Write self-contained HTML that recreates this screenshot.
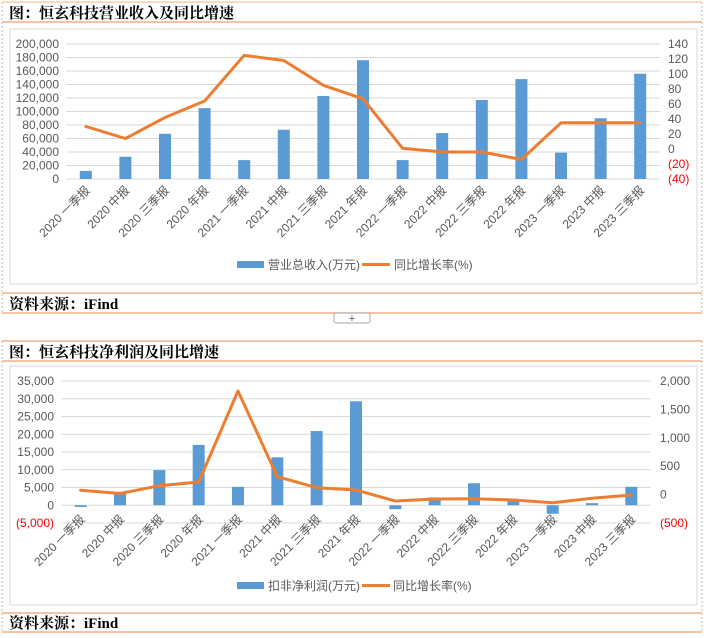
<!DOCTYPE html>
<html><head><meta charset="utf-8">
<style>
html,body{margin:0;padding:0;background:#fff;}
svg{display:block;font-family:"Liberation Sans","Noto Sans CJK SC",sans-serif;}
.t{font-family:"Liberation Serif","Noto Serif CJK SC","Noto Sans CJK SC",serif;font-weight:bold;font-size:15px;fill:#000;}
.ax{font-size:12px;fill:#595959;}
.neg{font-size:12px;fill:#ff0000;}
.lg{font-size:12px;fill:#595959;}
</style></head>
<body>
<svg id="s" width="708" height="638" viewBox="0 0 708 638">
  <g>
    <line x1="2" y1="2" x2="702" y2="2" stroke="#f4b183" stroke-width="1"/>
    <line x1="2" y1="22" x2="702" y2="22" stroke="#f4b183" stroke-width="1.5"/>
    <line x1="2" y1="2" x2="2" y2="313" stroke="#bbb" stroke-dasharray="2,2"/>
    <line x1="702" y1="2" x2="702" y2="313" stroke="#bbb" stroke-dasharray="2,2"/>
    <text class="t" x="9" y="18">图：恒玄科技营业收入及同比增速</text>
    <rect x="10" y="29" width="687" height="255" fill="#fff" stroke="#d9d9d9"/>
    <line x1="2" y1="293" x2="702" y2="293" stroke="#f4b183" stroke-width="1.5"/>
    <line x1="2" y1="313" x2="702" y2="313" stroke="#f4b183" stroke-width="1.5"/>
    <text class="t" x="9" y="309">资料来源：iFind</text>
  </g>
  <rect x="334" y="313" width="36" height="10" rx="2" fill="#fff" stroke="#aaa"/>
  <text x="352" y="322" font-size="11" fill="#555" text-anchor="middle">+</text>
  <g>
    <line x1="2" y1="341" x2="702" y2="341" stroke="#f4b183" stroke-width="1.5"/>
    <line x1="2" y1="361" x2="702" y2="361" stroke="#f4b183" stroke-width="1.5"/>
    <line x1="2" y1="341" x2="2" y2="633" stroke="#bbb" stroke-dasharray="2,2"/>
    <line x1="702" y1="341" x2="702" y2="633" stroke="#bbb" stroke-dasharray="2,2"/>
    <text class="t" x="9" y="357">图：恒玄科技净利润及同比增速</text>
    <rect x="10" y="366" width="687" height="239" fill="#fff" stroke="#d9d9d9"/>
    <line x1="2" y1="613" x2="702" y2="613" stroke="#f4b183" stroke-width="1.5"/>
    <line x1="2" y1="632" x2="702" y2="632" stroke="#f4b183" stroke-width="1.5"/>
    <text class="t" x="9" y="628">资料来源：iFind</text>
  </g>
  <g id="c1"></g>
  <g id="c2"></g>
</svg>
<script>
const categories = ["2020 一季报","2020 中报","2020 三季报","2020 年报","2021 一季报","2021 中报","2021 三季报","2021 年报","2022 一季报","2022 中报","2022 三季报","2022 年报","2023 一季报","2023 中报","2023 三季报"];
const revenueValues = [12000,33000,67000,105000,28000,73000,123000,176000,28000,68000,117000,148000,39000,90000,156000];
const revenueGrowth = [30,14,42,64,125,118,85,67,1,-4,-4,-14,35,35,35];
const revLeftTicks = [0,20000,40000,60000,80000,100000,120000,140000,160000,180000,200000];
const revRightTicks = [-40,-20,0,20,40,60,80,100,120,140];
const profitValues = [-500,3500,9900,17000,5200,13500,20900,29300,-1100,2200,6200,1400,-2400,600,5200];
const profitGrowth = [75,20,157,222,1824,315,122,81,-113,-77,-72,-95,-142,-65,-7];
const profLeftTicks = [-5000,0,5000,10000,15000,20000,25000,30000,35000];
const profRightTicks = [-500,0,500,1000,1500,2000];

const NS="http://www.w3.org/2000/svg";
function mk(p,tag,attrs,txt){const e=document.createElementNS(NS,tag);for(const k in attrs)e.setAttribute(k,attrs[k]);if(txt!==undefined)e.textContent=txt;p.appendChild(e);return e;}
function fmt(v){const s=Math.abs(v).toLocaleString('en-US');return v<0?'('+s+')':s;}

function draw(g,cfg){
  const {x0,x1,yTop,yBot,lMin,lMax,rMin,rMax,lTicks,rTicks,bars,line,lLabelX,rLabelX,legendY,barName,sw1,tx1,sw2,tx2,catY} = cfg;
  const n=categories.length, step=(x1-x0)/n;
  const xc=i=>x0+step*(i+0.5);
  const yl=v=>yBot-(v-lMin)/(lMax-lMin)*(yBot-yTop);
  const yr=v=>yBot-(v-rMin)/(rMax-rMin)*(yBot-yTop);
  lTicks.forEach(t=>{
    const y=yl(t);
    const gl=mk(g,'line',{x1:x0,x2:x1,y1:y,y2:y,stroke:'#d9d9d9','stroke-width':1});
    
    
    const tx=mk(g,'text',{x:lLabelX,y:y+4,'text-anchor':'end',class:t<0?'neg':'ax'},fmt(t));
    
    
  });
  rTicks.forEach(t=>{
    const tx=mk(g,'text',{x:rLabelX,y:yr(t)+4,class:t<0?'neg':'ax'},fmt(t));
    
    
  });
  bars.forEach((v,i)=>{
    const a=yl(0),b=yl(v);
    const r=mk(g,'rect',{x:xc(i)-6,y:Math.min(a,b),width:12,height:Math.abs(a-b),fill:'#5b9bd5'});
    
    
  });
  const pts=line.map((v,i)=>xc(i).toFixed(1)+','+yr(v).toFixed(1)).join(' ');
  const pl=mk(g,'polyline',{points:pts,fill:'none',stroke:'#ed7d31','stroke-width':3,'stroke-linejoin':'round','stroke-linecap':'round'});
  
  
  categories.forEach((c,i)=>{
    const x=xc(i)+5, y=catY;
    const tx=mk(g,'text',{x:x,y:y,'text-anchor':'end',class:'ax',transform:`rotate(-45 ${x} ${y})`},c);
    
    
  });
  const s1=mk(g,'rect',{x:sw1,y:legendY-8,width:27,height:7,fill:'#5b9bd5'});
  
  
  const t1=mk(g,'text',{x:tx1,y:legendY,class:'lg'},barName);
  
  
  const s2=mk(g,'line',{x1:sw2,x2:sw2+28,y1:legendY-4.5,y2:legendY-4.5,stroke:'#ed7d31','stroke-width':3});
  
  
  const t2=mk(g,'text',{x:tx2,y:legendY,class:'lg'},'同比增长率(%)');
  
  
}
draw(document.getElementById('c1'),{x0:66,x1:660,yTop:44,yBot:179,lMin:0,lMax:200000,rMin:-40,rMax:140,
  lTicks:revLeftTicks,rTicks:revRightTicks,bars:revenueValues,line:revenueGrowth,lLabelX:59,rLabelX:668,
  legendY:269,barName:'营业总收入(万元)',sw1:237,tx1:268,sw2:362,tx2:394,catY:191});
draw(document.getElementById('c2'),{x0:61,x1:651,yTop:381,yBot:523,lMin:-5000,lMax:35000,rMin:-500,rMax:2000,
  lTicks:profLeftTicks,rTicks:profRightTicks,bars:profitValues,line:profitGrowth,lLabelX:54,rLabelX:660,
  legendY:590,barName:'扣非净利润(万元)',sw1:237,tx1:268,sw2:362,tx2:393,catY:520});
</script>
</body></html>
